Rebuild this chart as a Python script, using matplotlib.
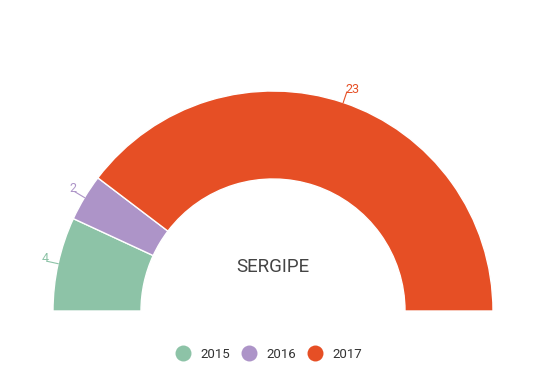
import numpy as np
import matplotlib
matplotlib.use("Agg")
import matplotlib.pyplot as plt
from matplotlib.lines import Line2D

plt.rcParams['font.family'] = ['Roboto', 'DejaVu Sans']

categories = ['2015', '2016', '2017']
values = [4, 2, 23]
colors = ['#8DC3A7', '#AD94C8', '#E64F25']
title = 'SERGIPE'

W, H = 547, 391
fig = plt.figure(figsize=(W / 100, H / 100), dpi=100)
ax = fig.add_axes([0, 0, 1, 1])
ax.set_xlim(0, W)
ax.set_ylim(0, H)
ax.set_aspect('equal')
ax.axis('off')

cx, cy = 273, H - 311
R, width = 220, 88
total = sum(values)
wedges, _ = ax.pie(values + [total], colors=colors + ['none'], center=(cx, cy), radius=R,
                   startangle=180, counterclock=False,
                   wedgeprops=dict(width=width, edgecolor='white', linewidth=1))
wedges[-1].set_edgecolor('none')
ax.set_xlim(0, W)
ax.set_ylim(0, H)

for w, v, c in zip(wedges[:-1], values, colors):
    ang = np.deg2rad((w.theta1 + w.theta2) / 2)
    ca, sa = np.cos(ang), np.sin(ang)
    x1, y1 = cx + (R + 11) * ca, cy + (R + 11) * sa
    ax.plot([cx + R * ca, x1], [cy + R * sa, y1], color=c, lw=0.8)
    ax.text(x1 + (-1 if ca > 0 else 1), y1 + 3, str(v), color=c, fontsize=9,
            ha='left' if ca > 0 else 'right', va='center')

ax.text(cx, H - 267, title, fontsize=13.5, color='#444444', ha='center', va='center')

handles = [Line2D([], [], marker='o', ls='none', markersize=11.5, markerfacecolor=c,
                  markeredgecolor='none') for c in colors]
fig.legend(handles, categories, loc='center', bbox_to_anchor=(266 / W, 1 - 354 / H),
           ncol=3, frameon=False, fontsize=9.5, handletextpad=0.35, columnspacing=0.4,
           labelcolor='#333333')

fig.savefig('out.png', dpi=100)
